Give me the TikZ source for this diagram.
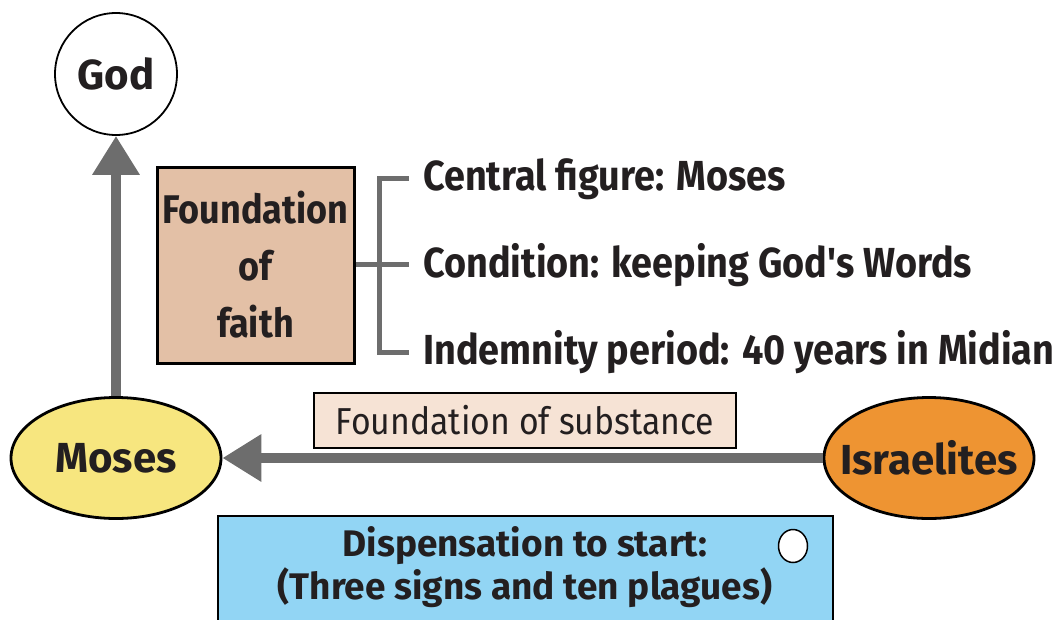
\documentclass[tikz,border=0pt]{standalone}
\usepackage{fontspec}
\setmainfont{Fira Sans}
\newfontfamily\condfont{Fira Sans}[FakeStretch=0.90]
\usetikzlibrary{shapes.geometric,arrows.meta}
\definecolor{ink}{HTML}{231F20}
\definecolor{arrowgray}{HTML}{6D6D6D}
\definecolor{faithfill}{HTML}{E3C0A6}
\definecolor{substfill}{HTML}{F6E3D5}
\definecolor{mosesfill}{HTML}{F7E67F}
\definecolor{israelfill}{HTML}{EE9432}
\definecolor{dispfill}{HTML}{92D5F4}
\tikzset{
  oval/.style={ellipse, draw=black, line width=2.8pt, minimum width=210pt, minimum height=121pt, inner sep=0pt},
  ovaltext/.style={text=ink, inner sep=0pt, font=\fontsize{42}{46}\selectfont\bfseries},
  fatarrow/.style={draw=arrowgray, line width=10pt, -{Triangle[width=45pt,length=39pt]}},
  bracketline/.style={draw=arrowgray, line width=5pt},
  itemtext/.style={anchor=west, inner sep=0pt, text=ink, font=\condfont\fontsize{42}{46}\selectfont\bfseries},
}
\begin{document}
\begin{tikzpicture}[x=1pt,y=-1pt]
\useasboundingbox (0,0) rectangle (1063,619);
% nodes
\node[circle, draw=black, line width=1.8pt, minimum size=122pt, inner sep=0pt, text=ink, font=\fontsize{42}{46}\selectfont\bfseries] (god) at (116,74) {God};
\node[oval, fill=mosesfill, label={[ovaltext]center:Moses}] (moses) at (116,458) {};
\node[oval, fill=israelfill, label={[ovaltext]center:Israelites}] (israel) at (929,458) {};
\node[rectangle, draw=black, line width=3pt, fill=faithfill, minimum width=197pt, minimum height=196pt, inner sep=0pt, text=ink, align=center, font=\condfont\fontsize{40}{57}\selectfont\bfseries] (faith) at (255.5,265) {Foundation\\of\\faith};
\node[rectangle, draw=black, line width=2.5pt, fill=substfill, minimum width=422pt, minimum height=55pt, inner sep=0pt, text=ink, font=\condfont\fontsize{37.5}{42}\selectfont] (subst) at (525,420.5) {Foundation of substance};
\node[rectangle, draw=black, line width=2.5pt, fill=dispfill, minimum width=615pt, minimum height=124pt, inner sep=0pt] (disp) at (525.5,578) {};
\node[inner sep=0pt, text=ink, align=center, font=\fontsize{37}{43}\selectfont\bfseries] (disptext) at (525,567) {Dispensation to start:\\(Three signs and ten plagues)};
\node[ellipse, draw=black, line width=1.5pt, fill=white, minimum width=29pt, minimum height=33pt, inner sep=0pt] (dot) at (793,546) {};
% item texts
\node[itemtext] (t1) at (423,179) {Central figure: Moses};
\node[itemtext] (t2) at (423,265) {Condition: keeping God's Words};
\node[itemtext] (t3) at (423,352) {Indemnity period: 40 years in Midian};
% bracket
\coordinate (b1) at (409,178);
\coordinate (b2) at (409,264);
\coordinate (b3) at (409,352);
\coordinate (bv) at (379,178);
\draw[bracketline] (b1) -- (bv) -- (bv |- b3) -- (b3);
\draw[bracketline] (faith.east |- b2) -- (b2);
% arrows
\draw[fatarrow] (moses.north) -- (god.south);
\draw[fatarrow] (israel.west) -- (moses.east);
\end{tikzpicture}
\end{document}
